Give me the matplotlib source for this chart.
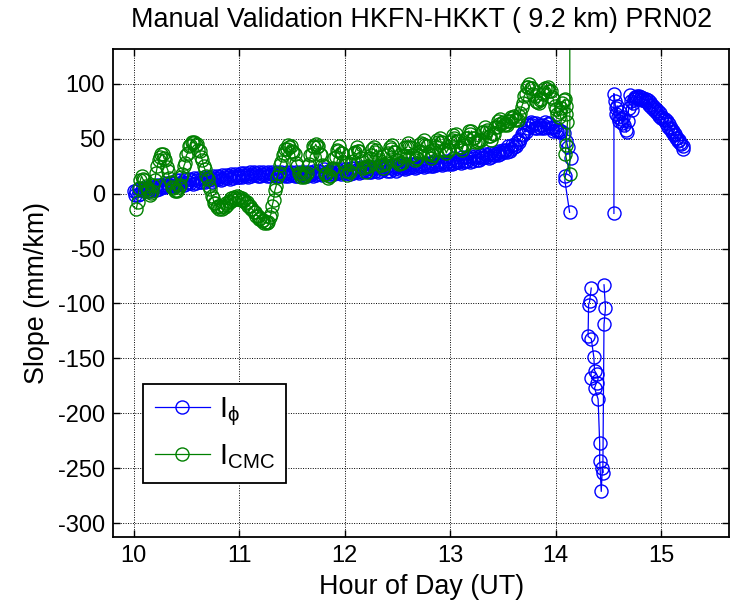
import numpy as np
import matplotlib
matplotlib.use("Agg")
import matplotlib.pyplot as plt

plt.rcParams['font.family'] = ['Liberation Sans', 'DejaVu Sans']
plt.rcParams['mathtext.fontset'] = 'custom'
plt.rcParams['mathtext.rm'] = 'Liberation Sans'
plt.rcParams['mathtext.it'] = 'Liberation Sans'
plt.rcParams['mathtext.bf'] = 'Liberation Sans:bold'

# ---------------- data ----------------
# I_phi main segment: regular sampling (hours)
phi_t0 = 10.000
phi_dt = 0.0125
phi_main = [
    2, -1, 2, -1, 4, 0, 3, 5, 2, 4, 2, 6, 2, 4, 6, 4, 6, 3, 8, 4,
    6, 8, 6, 8, 6, 10, 7, 8, 10, 7, 10, 7, 12, 8, 10, 12, 9, 11, 8, 13,
    9, 11, 13, 10, 12, 9, 14, 10, 12, 14, 11, 13, 11, 15, 11, 13, 15, 12, 14, 11,
    16, 12, 14, 16, 13, 15, 12, 17, 13, 15, 17, 14, 16, 13, 18, 14, 16, 18, 15, 17,
    15, 19, 15, 17, 19, 16, 18, 15, 20, 16, 18, 20, 17, 19, 16, 20, 16, 18, 20, 17,
    19, 16, 20, 16, 18, 20, 17, 19, 16, 20, 16, 18, 20, 17, 19, 16, 20, 16, 18, 20,
    17, 19, 16, 20, 16, 18, 20, 17, 19, 16, 20, 16, 18, 20, 17, 19, 16, 21, 17, 18,
    21, 18, 20, 17, 22, 18, 19, 21, 18, 20, 18, 22, 18, 20, 22, 19, 21, 18, 22, 19,
    20, 22, 19, 21, 18, 23, 19, 21, 23, 20, 22, 19, 24, 20, 21, 23, 21, 23, 20, 24,
    20, 22, 24, 21, 23, 20, 25, 21, 22, 24, 22, 24, 21, 25, 21, 23, 25, 22, 24, 21,
    26, 22, 24, 26, 23, 25, 22, 27, 23, 24, 27, 24, 26, 23, 28, 24, 25, 27, 25, 27,
    24, 28, 25, 26, 28, 25, 28, 25, 30, 26, 27, 29, 27, 29, 26, 30, 27, 28, 30, 27,
    30, 27, 32, 28, 29, 31, 29, 31, 28, 33, 29, 30, 33, 30, 32, 29, 34, 30, 32, 34,
    31, 33, 31, 35, 32, 33, 36, 33, 35, 32, 37, 33, 35, 37, 35, 37, 35, 39, 36, 38,
    40, 38, 40, 38, 43, 39, 41, 44, 42, 45, 43, 49, 47, 50, 54, 53, 57, 56, 63, 60,
    62, 65, 62, 64, 60, 64, 60, 61, 62, 60, 62, 60, 65, 61, 63, 64, 60, 61, 57, 61,
    58, 57, 58, 56, 57,
]
# I_phi drop-out near 14.1 h
phi_tail_t = [14.075, 14.100, 14.115, 14.140, 14.090, 14.085, 14.130]
phi_tail_v = [55, 48, 42, 32, 16, 12, -17]
# I_phi outlier cluster
phi_clu_t = [14.335, 14.320, 14.310, 14.305, 14.335, 14.360, 14.366, 14.385, 14.337,
             14.385, 14.366, 14.400, 14.415, 14.415, 14.430, 14.440, 14.445, 14.456,
             14.470, 14.456]
phi_clu_v = [-86, -98, -101, -130, -132, -149, -161, -164, -168,
             -172, -177, -187, -227, -243, -271, -250, -254, -119,
             -104, -83]
# I_phi late segment
phi_late_t = [14.550, 14.550, 14.560, 14.565, 14.570, 14.580, 14.590, 14.600, 14.610,
              14.620, 14.630, 14.640, 14.650, 14.660, 14.670, 14.680, 14.690, 14.700,
              14.710, 14.720, 14.730, 14.740, 14.750,
              14.76, 14.77, 14.78, 14.79, 14.80, 14.81, 14.82, 14.83, 14.84, 14.85,
              14.86, 14.87, 14.88, 14.89, 14.90, 14.91, 14.92, 14.93, 14.94, 14.95,
              14.96, 14.97, 14.98, 14.99, 15.00, 15.01, 15.02, 15.03, 15.04, 15.05,
              15.06, 15.07, 15.08, 15.09, 15.10, 15.11, 15.12, 15.13, 15.14, 15.15,
              15.16, 15.17, 15.18, 15.19, 15.20, 15.205]
phi_late_v = [-18, 91, 84, 78, 72, 80, 70, 66, 74,
              68, 64, 70, 62, 58, 56, 66, 78, 90,
              84, 76, 82, 86, 88,
              88, 89, 87, 89, 86, 88, 85, 87, 84, 86,
              83, 85, 81, 83, 79, 81, 77, 79, 75, 77,
              73, 75, 71, 73, 69, 70, 67, 68, 64, 66,
              61, 63, 59, 60, 56, 57, 53, 54, 51, 51,
              48, 49, 46, 45, 43, 41]

# I_CMC main segment: regular sampling (hours)
cmc_t0 = 10.025
cmc_dt = 0.0125
cmc_main = [
    -14, -8, 5, 12, 16, 13, 12, 7, 4, 2, -1, 1, 2, 8, 12, 19, 25, 31, 33, 36,
    36, 32, 31, 24, 21, 14, 11, 6, 5, 2, 3, 2, 6, 8, 15, 18, 25, 28, 35, 37,
    43, 44, 47, 46, 47, 44, 45, 40, 39, 33, 31, 25, 22, 16, 13, 7, 4, -2, -4, -9,
    -9, -12, -11, -14, -12, -14, -11, -12, -9, -10, -7, -8, -4, -6, -3, -4, -2, -5, -3, -6,
    -4, -7, -6, -9, -8, -11, -11, -14, -14, -17, -17, -20, -20, -23, -22, -25, -24, -27, -26, -27,
    -26, -21, -19, -11, -6, 3, 7, 15, 19, 26, 29, 35, 37, 41, 41, 44, 42, 43, 39, 38,
    36, 28, 25, 19, 18, 15, 16, 15, 18, 19, 25, 27, 35, 36, 43, 42, 45, 42, 43, 36,
    35, 26, 25, 18, 18, 14, 16, 16, 22, 23, 32, 33, 40, 39, 43, 37, 37, 29, 28, 21,
    17, 21, 20, 27, 30, 37, 38, 42, 39, 39, 32, 30, 23, 24, 20, 25, 25, 32, 35, 41,
    42, 38, 40, 33, 31, 26, 26, 23, 27, 28, 35, 37, 42, 41, 44, 38, 38, 31, 31, 27,
    28, 28, 34, 35, 42, 42, 46, 42, 42, 35, 35, 31, 32, 32, 38, 39, 46, 45, 49, 44,
    43, 37, 36, 32, 35, 35, 40, 42, 49, 47, 51, 47, 47, 40, 40, 37, 40, 40, 47, 49,
    53, 51, 54, 48, 48, 42, 42, 40, 44, 44, 51, 51, 57, 54, 57, 51, 51, 47, 48, 47,
    49, 49, 56, 56, 61, 56, 58, 52, 52, 49, 54, 54, 61, 61, 66, 63, 68, 64, 65, 62,
    63, 62, 66, 66, 70, 69, 71, 67, 68, 67, 71, 73, 79, 82, 89, 91, 97, 97, 100, 96,
    96, 91, 89, 84, 83, 82, 85, 86, 91, 92, 96, 95, 97, 93, 93, 88, 86, 80, 77, 72,
    70, 74, 78, 82, 85,
]
cmc_tail_t = [14.085, 14.095, 14.100, 14.110, 14.095, 14.090, 14.132, 14.132]
cmc_tail_v = [86, 80, 72, 65, 44, 36, 18, 400]

title = "Manual Validation HKFN-HKKT ( 9.2 km) PRN02"
xlabel = "Hour of Day (UT)"
ylabel = "Slope (mm/km)"
labels = [r'$\mathrm{I}_{\phi}$', r'$\mathrm{I}_{\mathrm{CMC}}$']
xticks = [10, 11, 12, 13, 14, 15]
yticks = [-300, -250, -200, -150, -100, -50, 0, 50, 100]

# ---------------- assemble ----------------
phi_main_t = phi_t0 + phi_dt * np.arange(len(phi_main))
cmc_main_t = cmc_t0 + cmc_dt * np.arange(len(cmc_main))
nan = [np.nan]
phi_t = np.concatenate([phi_main_t, phi_tail_t, nan, phi_clu_t, nan, phi_late_t])
phi_v = np.concatenate([phi_main, phi_tail_v, nan, phi_clu_v, nan, phi_late_v])
cmc_t = np.concatenate([cmc_main_t, cmc_tail_t])
cmc_v = np.concatenate([cmc_main, cmc_tail_v])

# ---------------- plot ----------------
fig = plt.figure(figsize=(7.3, 6.05), dpi=100)
ax = fig.add_axes([0.1552, 0.1129, 0.8434, 0.8056])

ax.plot(phi_t, phi_v, color=(0, 0, 1), marker='o', mfc='none', mec=(0, 0, 1),
        ms=9.4, mew=1.0, lw=0.9, label=labels[0])
ax.plot(cmc_t, cmc_v, color=(0, 0.5, 0), marker='o', mfc='none', mec=(0, 0.5, 0),
        ms=9.4, mew=1.0, lw=0.9, label=labels[1])

ax.set_xlim(9.807, 15.64)
ax.set_ylim(-312.2, 131.3)
ax.set_xticks(xticks)
ax.set_yticks(yticks)
ax.set_xticklabels([str(v) for v in xticks])
ax.set_yticklabels([str(v) for v in yticks])
ax.grid(True, color='black', linestyle=(0, (1, 1.5)), linewidth=0.7)
ax.set_axisbelow(True)
ax.tick_params(direction='in', top=True, right=True, length=5, width=1,
               labelsize=17, pad=6)
for sp in ax.spines.values():
    sp.set_linewidth(1.3)

ax.set_title(title, fontsize=19.4, pad=16)
ax.set_xlabel(xlabel, fontsize=19.4, labelpad=5)
ax.set_ylabel(ylabel, fontsize=19.4, labelpad=6)

leg = ax.legend(loc='lower left', bbox_to_anchor=(0.048, 0.110), borderaxespad=0,
                fontsize=21, handlelength=1.9, handletextpad=0.3, borderpad=0.4,
                labelspacing=0.5, fancybox=False, framealpha=1)
leg.get_frame().set_edgecolor('black')
leg.get_frame().set_linewidth(1.3)

fig.savefig("out.png", dpi=100)
